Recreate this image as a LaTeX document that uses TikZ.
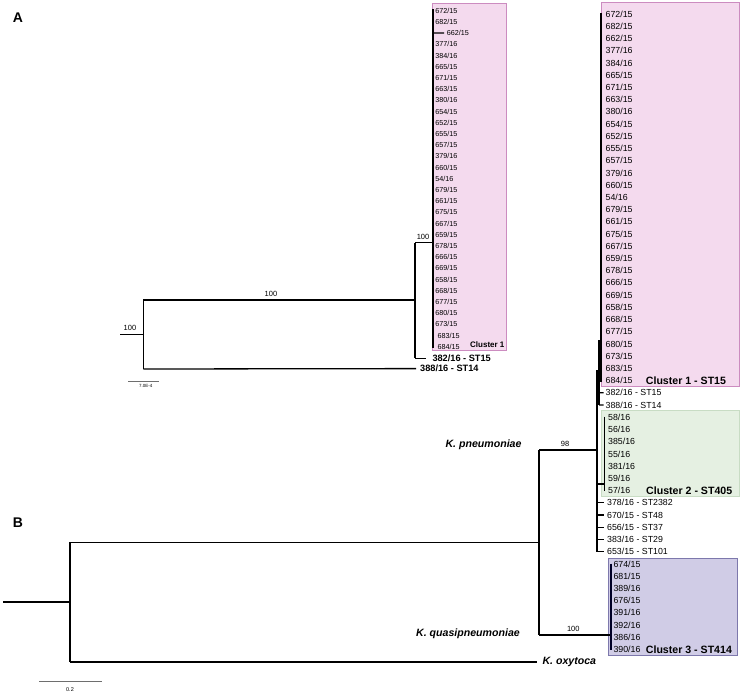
\documentclass[tikz,border=0pt]{standalone}
\usepackage{fontspec}
\setmainfont{Liberation Sans}
\definecolor{pinkfill}{RGB}{244,218,238}
\definecolor{pinkline}{RGB}{204,140,192}
\definecolor{greenfill}{RGB}{229,240,226}
\definecolor{greenline}{RGB}{200,220,196}
\definecolor{lavfill}{RGB}{208,204,230}
\definecolor{lavline}{RGB}{125,120,172}
\definecolor{scalegray}{RGB}{110,110,110}
\tikzset{
 tipA/.style={anchor=west, inner sep=0pt, text height=5.2pt, text depth=0pt, font=\fontsize{7.2}{8}\selectfont},
 tipB/.style={anchor=west, inner sep=0pt, text height=6.3pt, text depth=0pt, font=\fontsize{8.8}{10}\selectfont},
 tipAbold/.style={anchor=west, inner sep=0pt, text height=6.6pt, text depth=0pt, font=\fontsize{9.2}{10}\selectfont\bfseries},
 boot/.style={inner sep=0pt, font=\fontsize{7.5}{8}\selectfont},
 branchA/.style={line width=1.3pt},
 branchB/.style={line width=1.6pt},
 clusA/.style={anchor=west, inner sep=0pt, text height=5.8pt, text depth=0pt, font=\fontsize{8}{9}\selectfont\bfseries},
 clus/.style={anchor=west, inner sep=0pt, text height=7.6pt, text depth=0pt, font=\fontsize{10.6}{12}\selectfont\bfseries},
 species/.style={inner sep=0pt, text height=7.6pt, text depth=2pt, font=\fontsize{10.6}{12}\selectfont\bfseries\itshape},
 panel/.style={inner sep=0pt, font=\fontsize{14}{14}\selectfont\bfseries},
}
\begin{document}
\begin{tikzpicture}[x=1pt,y=-1pt]
\useasboundingbox (0,0) rectangle (743,695);

% ================= Panel A =================
\node[panel] (labA) at (18,18) {A};
\filldraw[fill=pinkfill, draw=pinkline, line width=0.8pt] (432.7,3.3) rectangle (506.5,350);
\foreach \t [count=\i from 0] in {672/15,682/15,662/15,377/16,384/16,665/15,671/15,663/15,380/16,654/15,652/15,655/15,657/15,379/16,660/15,54/16,679/15,661/15,675/15,667/15,659/15,678/15,666/15,669/15,658/15,668/15,677/15,680/15,673/15,683/15,684/15}{
  \ifnum\i=2 \def\xx{446.7}\else\ifnum\i>28 \def\xx{437.3}\else\def\xx{435.2}\fi\fi
  \node[tipA] (a\i) at (\xx,{10.7+11.2*\i}) {\t};
}
\node[clusA] (clA) at (470,344.3) {Cluster 1};
\node[tipAbold] (st15A) at (432.3,358.3) {382/16 - ST15};
\node[tipAbold] (st14A) at (420,368.6) {388/16 - ST14};

\coordinate (rA) at (120,334.3);
\coordinate (nA) at (143.3,334.3);
\coordinate (nAt) at (143.3,300);
\coordinate (nAb) at (143.3,369);
\coordinate (mA) at (415,300);
\coordinate (mAt) at (415,242.7);
\coordinate (mAb) at (415,358.3);
\coordinate (cA) at (433,242.7);
\draw[branchA] (rA) -- (nA);
\draw[branchA] (nAt) -- (nAb);
\draw[branchA] (nAt) -- (mA);
\draw[branchA] (nAb) -- ([xshift=-4pt]st14A.west);
\draw[branchA] (mAt) -- (mAb);
\draw[branchA] (mAt) -- (cA);
\draw[branchA] (mAb) -- ([xshift=-6.5pt]st15A.west);
\draw[branchA] (433,9.5) -- (433,347.5);
\draw[branchA] (433,33.1) -- ([xshift=-2.5pt]a2.west);
\node[boot] (bA1) at (271,294) {100};
\node[boot] (bA2) at (130,328) {100};
\node[boot] (bA3) at (423,236.7) {100};
\coordinate (sA1) at (128.3,381);
\coordinate (sA2) at (159,381);
\draw[scalegray, line width=0.8pt] (sA1) -- (sA2);
\node[inner sep=0pt, font=\fontsize{4.5}{5}\selectfont] (sAt) at (145.7,386) {7.0E-4};

% ================= Panel B =================
\node[panel] (labB) at (18,523) {B};
\filldraw[fill=pinkfill, draw=pinkline, line width=0.8pt] (601.7,2.7) rectangle (739.3,386.7);
\filldraw[fill=greenfill, draw=greenline, line width=0.8pt] (601.7,410) rectangle (739.3,496.7);
\filldraw[fill=lavfill, draw=lavline, line width=0.8pt] (608.3,558.3) rectangle (737.7,655);

\foreach \t [count=\i from 0] in {672/15,682/15,662/15,377/16,384/16,665/15,671/15,663/15,380/16,654/15,652/15,655/15,657/15,379/16,660/15,54/16,679/15,661/15,675/15,667/15,659/15,678/15,666/15,669/15,658/15,668/15,677/15,680/15,673/15,683/15,684/15,382/16 - ST15,388/16 - ST14}{
  \node[tipB] (r\i) at (605.5,{14+12.22*\i}) {\t};
}
\foreach \t [count=\i from 33] in {58/16,56/16,385/16,55/16,381/16,59/16,57/16}{
  \node[tipB] (r\i) at (608,{14+12.22*\i}) {\t};
}
\foreach \t [count=\i from 40] in {378/16 - ST2382,670/15 - ST48,656/15 - ST37,383/16 - ST29,653/15 - ST101}{
  \node[tipB] (r\i) at (607,{14+12.22*\i}) {\t};
}
\foreach \t [count=\i from 45] in {674/15,681/15,389/16,676/15,391/16,392/16,386/16,390/16}{
  \node[tipB] (r\i) at (613.3,{14+12.22*\i}) {\t};
}
\node[clus] (cl1) at (645.7,380.7) {Cluster 1 - ST15};
\node[clus] (cl2) at (646,490.3) {Cluster 2 - ST405};
\node[clus] (cl3) at (645.7,649.2) {Cluster 3 - ST414};

% backbone
\coordinate (rB) at (3.3,601.7);
\coordinate (nB) at (70,601.7);
\coordinate (nBt) at (70,542.3);
\coordinate (nBb) at (70,661.7);
\coordinate (kB) at (539,542.3);
\coordinate (kBt) at (539,450);
\coordinate (kBb) at (539,635);
\coordinate (pn) at (597,450);
\coordinate (qp) at (610.7,635);
\draw[branchB] (rB) -- (nB);
\draw[branchB] (nBt) -- (nBb);
\draw[branchB] (nBt) -- (kB);
\node[species, anchor=west] (oxy) at (542.3,661.7) {K. oxytoca};
\draw[branchB] (nBb) -- ([xshift=-5pt]oxy.west);
\draw[branchB] (kBt) -- (kBb);
\draw[branchB] (kBt) -- (pn);
\draw[branchB] (kBb) -- (qp);
\node[boot] (b98) at (565,444) {98};
\node[boot] (b100) at (573.3,629.3) {100};
\node[species, anchor=east] (kpn) at (521.7,445) {K. pneumoniae};
\node[species, anchor=east] (kqp) at (520,634) {K. quasipneumoniae};

% K. pneumoniae clade
\draw[line width=1.5pt] (601,13) -- (601,381.5);
\draw[line width=1.5pt] (599,340) -- (599,405);
\draw[line width=1.2pt] (599,392.8) -- ([xshift=-2pt]r31.west);
\draw[line width=1.2pt] (599,405) -- ([xshift=-2pt]r32.west);
\draw[line width=1.5pt] (597,370) -- (597,551.7);
\draw[line width=1.2pt] (604.5,416.5) -- (604.5,491);
\draw[line width=1.2pt] (597,484) -- (604.5,484);
\foreach \i in {40,...,44}{
  \draw[line width=1.2pt] (597,{14+12.22*\i}) -- ([xshift=-3pt]r\i.west);
}
% K. quasipneumoniae clade
\draw[line width=1.6pt, black!85!blue] (610.7,563.5) -- (610.7,650);

\coordinate (sB1) at (39,681);
\coordinate (sB2) at (101.7,681);
\draw[scalegray, line width=1pt] (sB1) -- (sB2);
\node[inner sep=0pt, font=\fontsize{5.5}{6}\selectfont] (sBt) at (70,689.5) {0.2};
\end{tikzpicture}
\end{document}
